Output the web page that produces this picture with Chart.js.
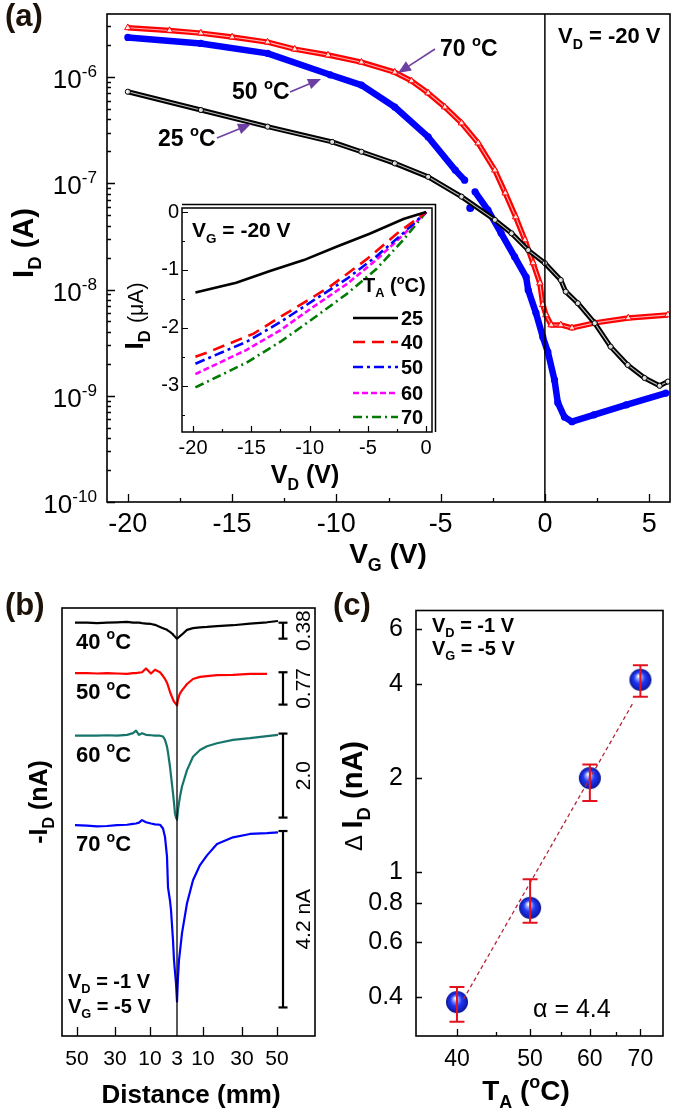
<!DOCTYPE html>
<html><head><meta charset="utf-8">
<script src="https://cdn.jsdelivr.net/npm/chart.js@4.4.1/dist/chart.umd.min.js"></script>
<style>
html,body{margin:0;padding:0;background:#fff;}
#wrap{position:relative;width:675px;height:1116px;overflow:hidden;background:#fff;}
canvas{position:absolute;}
</style></head><body><div id="wrap">
<canvas id="cA" width="675" height="575" style="left:0px;top:0px"></canvas>
<canvas id="cI" width="330" height="300" style="left:115px;top:195px"></canvas>
<canvas id="cB" width="330" height="531" style="left:0px;top:585px"></canvas>
<canvas id="cC" width="345" height="531" style="left:330px;top:585px"></canvas>
</div>
<script>
// ---------------- DATA ----------------
// (a) main: I_D (A) vs V_G (V) at V_D = -20 V
const vg25 = [-20,-16.5,-13.3,-10.2,-8.8,-7.2,-5.6,-4.0,-2.4,-1.6,-0.8,0,0.76,1.0,1.58,2.39,3.15,3.97,4.78,5.5,5.9];
const id25 = [7.27e-7,4.89e-7,3.41e-7,2.45e-7,1.98e-7,1.54e-7,1.15e-7,7.48e-8,4.52e-8,3.38e-8,2.35e-8,1.77e-8,1.23e-8,9.55e-9,7.43e-9,4.82e-9,2.9e-9,1.95e-9,1.47e-9,1.24e-9,1.36e-9];
const vg50 = [-20,-16.5,-13.3,-10.3,-8.8,-7.2,-5.6,-4.3,-3.85,-3.6,-3.35,-2.73,-2.1,-1.45,-0.9,-0.8,-0.43,-0.1,0.14,0.46,0.62,0.94,1.3,2.35,3.9,5.8];
const id50 = [2.36e-6,2.07e-6,1.67e-6,1.05e-6,8.4e-7,5.22e-7,2.73e-7,1.33e-7,1.07e-7,null,8.3e-8,5.6e-8,3.4e-8,2.03e-8,1.31e-8,9.9e-9,6.03e-9,3.58e-9,2.59e-9,1.41e-9,8.6e-10,6.3e-10,5.7e-10,6.6e-10,8.2e-10,1.06e-9];
const vg50Outlier = [-3.58];
const id50Outlier = [5.86e-8];
const vg70 = [-20,-18,-16.5,-15,-13.3,-12,-10.4,-8.8,-7.2,-6.4,-5.6,-4.8,-4.0,-3.2,-2.4,-1.9,-1.4,-0.96,-0.57,-0.24,-0.1,0.05,0.3,0.76,1.3,2.4,4.0,5.9];
const id70 = [2.91e-6,2.74e-6,2.59e-6,2.38e-6,2.13e-6,1.83e-6,1.61e-6,1.38e-6,1.11e-6,9.2e-7,7.07e-7,5.22e-7,3.69e-7,2.39e-7,1.33e-7,8.1e-8,4.82e-8,2.93e-8,1.78e-8,1.15e-8,7.2e-9,5.77e-9,4.64e-9,4.64e-9,4.35e-9,4.85e-9,5.4e-9,5.77e-9];
const xTicksA = [-20,-15,-10,-5,0,5];
const yDecadesA = [-10,-9,-8,-7,-6];

// (a) inset: I_D (uA) vs V_D (V) at V_G = -20 V
const insetTemps = ['25','40','50','60','70'];
const insetVd25 = [-19.8,-16.3,-13.4,-10.5,-7.7,-4.8,-1.95,0];
const insetId25 = [-1.39,-1.22,-1.02,-0.83,-0.60,-0.37,-0.12,0];
const insetVd40 = [-19.8,-18.7,-14.8,-12.5,-10.2,-8.2,-5.0,-2.5,0];
const insetId40 = [-2.50,-2.42,-2.10,-1.81,-1.53,-1.28,-0.80,-0.37,0];
const insetVd = [-19.8,-15.4,-12.5,-9.7,-6.85,-4.3,-2.0,0];
const insetId50 = [-2.62,-2.24,-1.90,-1.53,-1.16,-0.77,-0.37,0];
const insetId60 = [-2.80,-2.38,-2.04,-1.64,-1.25,-0.83,-0.40,0];
const insetId70 = [-3.03,-2.60,-2.24,-1.84,-1.42,-0.99,-0.49,0];
const xTicksI = [-20,-15,-10,-5,0];
const yTicksI = [0,-1,-2,-3];

// (b) -I_D traces vs distance (axis position units), relative change in nA
const tempsB = ['40','50','60','70'];
const posB = [-1.02,-0.9,-0.8,-0.7,-0.6,-0.5,-0.44,-0.41,-0.38,-0.35,-0.31,-0.26,-0.22,-0.17,-0.14,-0.12,-0.1,-0.09,-0.07,-0.06,-0.04,-0.03,-0.02,-0.01,0,0.01,0.02,0.03,0.05,0.1,0.16,0.23,0.3,0.4,0.56,0.73,0.9,1.01];
const dI40 = [0,0,-0.01,0,0.01,0.02,0,0,0,-0.01,-0.02,-0.03,-0.05,-0.1,-0.13,-0.15,-0.17,-0.19,-0.22,-0.24,-0.28,-0.31,-0.33,-0.36,-0.38,-0.36,-0.34,-0.32,-0.28,-0.17,-0.13,-0.11,-0.1,-0.08,-0.06,-0.02,0.01,0.04];
const dI50 = [0,0,-0.01,0,-0.01,-0.02,0,0,0.01,0.02,0.11,-0.01,0.08,0.02,-0.07,-0.14,-0.23,-0.3,-0.45,-0.51,-0.63,-0.68,-0.71,-0.74,-0.77,-0.63,-0.55,-0.48,-0.41,-0.26,-0.14,-0.09,-0.07,-0.05,-0.04,-0.02,-0.02,null];
const dI60 = [0,0,0,0.01,0,0.02,0.06,0.12,0.02,0.06,0.02,0.01,0,0,-0.02,-0.1,-0.26,-0.4,-0.74,-0.95,-1.37,-1.6,-1.85,-1.95,-2.0,-1.77,-1.6,-1.45,-1.21,-0.82,-0.5,-0.34,-0.25,-0.18,-0.1,-0.06,-0.01,0.02];
const dI70 = [0,-0.01,-0.03,-0.02,0,0.01,0.03,0.04,0.06,0.12,0.07,0.04,0.02,0.01,-0.08,-0.28,-0.75,-1.48,-1.8,-2.02,-2.74,-3.21,-3.5,-3.76,-4.2,-3.62,-3.21,-3.0,-2.57,-1.86,-1.31,-0.95,-0.72,-0.45,-0.29,-0.21,-0.19,-0.17];
const baseB = [9.84,8.64,7.15,5.02];
const barTopB = [9.84,8.66,7.2,4.88];
const barDipB = [0.38,0.77,2.0,4.2];
const barLabelB = ['0.38','0.77','2.0','4.2 nA'];
const tickPosB = [-1,-0.62,-0.27,0,0.26,0.65,1];
const tickLabB = ['50','30','10','3','10','30','50'];

// (c) Delta I_D vs T_A
const tempC = [40,50,60,70];
const dIC = [0.385,0.77,2.0,4.12];
const errHiC = [0.43,0.95,2.21,4.59];
const errLoC = [0.333,0.69,1.69,3.64];
const fitT = [40.8,68.6];
const fitI = [0.393,3.51];
const xTicksC = [40,50,60,70];
const xMinorC = [45,55,65];
const yTicksC = [0.4,0.6,0.8,1,2,4,6];

// ---------------- HELPERS ----------------
const FONT = '"Liberation Sans", Arial, Helvetica, sans-serif';
Chart.defaults.font.family = FONT;
Chart.defaults.color = '#000';
const pts = (xs, ys) => xs.map((x,i)=>({x:x, y:ys[i]}));

function parseRich(s){
  const parts=[]; const re=/([_^~])\{([^}]*)\}/g; let last=0,m;
  while((m=re.exec(s))){ if(m.index>last) parts.push({t:s.slice(last,m.index)});
    parts.push({t:m[2], k:m[1]}); last=re.lastIndex; }
  if(last<s.length) parts.push({t:s.slice(last)});
  return parts;
}
function drawRich(ctx, str, x, y, o){
  const size=o.size, weight=o.weight||'bold';
  const parts=parseRich(str);
  const fontOf=p=>{
    if(p.k==='_'||p.k==='^') return `${weight} ${size*(o.sc||0.64)}px ${FONT}`;
    if(p.k==='~') return `normal ${size*0.82}px ${FONT}`;
    return `${weight} ${size}px ${FONT}`;
  };
  ctx.save(); ctx.translate(x,y); if(o.rot) ctx.rotate(o.rot);
  ctx.fillStyle=o.color||'#000'; ctx.textBaseline='alphabetic'; ctx.textAlign='left';
  const w=parts.map(p=>{ctx.font=fontOf(p); return ctx.measureText(p.t).width;});
  const tot=w.reduce((a,b)=>a+b,0);
  let cx = o.align==='center' ? -tot/2 : (o.align==='right' ? -tot : 0);
  parts.forEach((p,i)=>{ ctx.font=fontOf(p);
    const dy = p.k==='_' ? size*0.27 : (p.k==='^' ? -size*0.42 : 0);
    ctx.fillText(p.t, cx, dy); cx+=w[i]; });
  ctx.restore();
}
function arrow(ctx, x1,y1,x2,y2,color){
  const a=Math.atan2(y2-y1,x2-x1), L=13, W=5.5;
  ctx.save(); ctx.strokeStyle=color; ctx.fillStyle=color; ctx.lineWidth=1.6;
  ctx.beginPath(); ctx.moveTo(x1,y1); ctx.lineTo(x2-Math.cos(a)*L*0.8, y2-Math.sin(a)*L*0.8); ctx.stroke();
  ctx.beginPath(); ctx.moveTo(x2,y2);
  ctx.lineTo(x2-Math.cos(a)*L-Math.sin(a)*W, y2-Math.sin(a)*L+Math.cos(a)*W);
  ctx.lineTo(x2-Math.cos(a)*L+Math.sin(a)*W, y2-Math.sin(a)*L-Math.cos(a)*W);
  ctx.closePath(); ctx.fill(); ctx.restore();
}
function ticksX(ctx, sc, area, vals, len){ vals.forEach(v=>{const x=Math.round(sc.getPixelForValue(v))+0.5; ctx.moveTo(x,area.bottom); ctx.lineTo(x,area.bottom-len);}); }
function ticksY(ctx, sc, area, vals, len){ vals.forEach(v=>{const y=Math.round(sc.getPixelForValue(v))+0.5; ctx.moveTo(area.left,y); ctx.lineTo(area.left+len,y);}); }
function frame(ctx, a, lw){ ctx.save(); ctx.lineWidth=lw; ctx.strokeStyle='#000'; ctx.strokeRect(a.left, a.top, a.right-a.left, a.bottom-a.top); ctx.restore(); }
function scaleOpt(extra){
  return Object.assign({grid:{display:false, drawTicks:false}, border:{display:false}}, extra);
}
function common(pad, scales){
  return { responsive:false, animation:false, devicePixelRatio:1, events:[],
    layout:{padding:pad},
    plugins:{legend:{display:false}, tooltip:{enabled:false}},
    scales:scales };
}
const PURPLE = '#6e3fa3';

// ---------------- CHART (a) main ----------------
new Chart(document.getElementById('cA'), {
  type:'scatter',
  data:{datasets:[
    {label:'25', data:pts(vg25,id25), showLine:true, borderColor:'#000', borderWidth:5, pointRadius:0, borderJoinStyle:'round', order:2},
    {label:'25i', data:pts(vg25,id25), showLine:true, borderColor:'rgba(255,255,255,0.75)', borderWidth:1.1, pointRadius:2.6, pointStyle:'circle', pointBackgroundColor:'rgba(255,255,255,0.8)', pointBorderColor:'#000', pointBorderWidth:1, order:1},
    {label:'70', data:pts(vg70,id70), showLine:true, borderColor:'#ff0000', borderWidth:5.5, pointRadius:0, borderJoinStyle:'round', order:4},
    {label:'70i', data:pts(vg70,id70), showLine:true, borderColor:'rgba(255,255,255,0.7)', borderWidth:1.1, pointRadius:3.8, pointStyle:'triangle', pointBackgroundColor:'rgba(255,255,255,0.8)', pointBorderColor:'#ff0000', pointBorderWidth:1, order:3},
    {label:'50', data:pts(vg50,id50), showLine:true, spanGaps:false, borderColor:'#0000ff', borderWidth:6.5, pointRadius:3.6, pointBackgroundColor:'#0000ff', pointBorderWidth:0, borderJoinStyle:'round', order:6},
    {label:'50o', data:pts(vg50Outlier,id50Outlier), showLine:false, pointRadius:4, pointBackgroundColor:'#0000ff', pointBorderWidth:0, order:5}
  ]},
  options: common({top:14,right:3,left:0,bottom:0}, {
    x: scaleOpt({type:'linear', min:-21, max:6,
      afterFit:s=>{s.height=73;}, afterBuildTicks:s=>{s.ticks=xTicksA.map(v=>({value:v}));},
      ticks:{font:{size:27,lineHeight:1}, color:'#000', padding:9, maxRotation:0, autoSkip:false}}),
    y: scaleOpt({type:'logarithmic', min:1e-10, max:3.92e-6,
      afterFit:s=>{s.width=107;}, ticks:{display:false}})
  }),
  plugins:[{id:'decoA', afterDraw(chart){
    const ctx=chart.ctx, a=chart.chartArea, xs=chart.scales.x, ys=chart.scales.y;
    frame(ctx,a,1.6);
    ctx.save(); ctx.strokeStyle='#000'; ctx.lineWidth=1.5;
    const x0=xs.getPixelForValue(0); ctx.beginPath(); ctx.moveTo(x0,a.top); ctx.lineTo(x0,a.bottom); ctx.stroke();
    ctx.lineWidth=1.3; ctx.beginPath();
    ticksX(ctx,xs,a,xTicksA,8);
    const minorX=xTicksA.map(v=>v-2.5).concat([xTicksA[xTicksA.length-1]+2.5]);
    ticksX(ctx,xs,a,minorX.filter(v=>v>-21&&v<6),4);
    ticksY(ctx,ys,a,yDecadesA.map(d=>Math.pow(10,d)),8);
    const minorY=[]; yDecadesA.forEach(d=>{for(let k=2;k<=9;k++){const v=k*Math.pow(10,d); if(v<3.92e-6) minorY.push(v);}});
    ticksY(ctx,ys,a,minorY,4);
    ctx.stroke(); ctx.restore();
    yDecadesA.forEach(d=>{ const y=ys.getPixelForValue(Math.pow(10,d));
      drawRich(ctx,'10^{'+d+'}',97,y+11,{size:26,weight:'normal',align:'right',sc:0.66}); });
    drawRich(ctx,'I_{D} (A)',33,243,{size:29,rot:-Math.PI/2,align:'center'});
    drawRich(ctx,'V_{G} (V)',388,563,{size:28,align:'center'});
    drawRich(ctx,'(a)',5,26,{size:31,color:'#1c1208'});
    drawRich(ctx,'V_{D} = -20 V',558,43,{size:22});
    drawRich(ctx,'70 ^{o}C',440,56,{size:23});
    drawRich(ctx,'50 ^{o}C',232,99,{size:23});
    drawRich(ctx,'25 ^{o}C',158,146,{size:23});
    arrow(ctx,435,49,398,73,PURPLE);
    arrow(ctx,290,92,321,79,PURPLE);
    arrow(ctx,217,138,251,124,PURPLE);
  }}]
});

// ---------------- CHART (a) inset ----------------
const insetStyles = [
  {c:'#000000', d:[]},
  {c:'#ff0000', d:[12,7]},
  {c:'#0000ff', d:[10,4,3,4]},
  {c:'#ff00ff', d:[6,3]},
  {c:'#007a00', d:[9,4,2,4]}
];
const insetSeries = [pts(insetVd25,insetId25), pts(insetVd40,insetId40), pts(insetVd,insetId50), pts(insetVd,insetId60), pts(insetVd,insetId70)];
const OI={x:115,y:195};
new Chart(document.getElementById('cI'), {
  type:'scatter',
  data:{datasets: insetSeries.map((d,i)=>({label:insetTemps[i], data:d, showLine:true, borderColor:insetStyles[i].c, borderDash:insetStyles[i].d, borderWidth:2.6, pointRadius:0, order:i}))},
  options: common({top:9,right:13,left:0,bottom:0}, {
    x: scaleOpt({type:'linear', min:-20.95, max:0.5,
      afterFit:s=>{s.height=63;}, afterBuildTicks:s=>{s.ticks=xTicksI.map(v=>({value:v}));},
      ticks:{font:{size:20,lineHeight:1}, color:'#000', padding:6, maxRotation:0, autoSkip:false}}),
    y: scaleOpt({type:'linear', min:-3.8, max:0.07,
      afterFit:s=>{s.width=67;}, afterBuildTicks:s=>{s.ticks=yTicksI.map(v=>({value:v}));},
      ticks:{font:{size:20,lineHeight:1}, color:'#000', padding:3, autoSkip:false}})
  }),
  plugins:[{id:'bgI', beforeDatasetsDraw(chart){
      const ctx=chart.ctx,a=chart.chartArea; ctx.save(); ctx.fillStyle='#fff'; ctx.fillRect(a.left,a.top,a.right-a.left,a.bottom-a.top); ctx.restore(); },
    afterDraw(chart){
    const ctx=chart.ctx, a=chart.chartArea, xs=chart.scales.x, ys=chart.scales.y;
    frame(ctx,a,1.5);
    ctx.save(); ctx.lineWidth=1.5; ctx.beginPath();
    ctx.moveTo(a.left,a.top-3.5); ctx.lineTo(a.right+3.5,a.top-3.5); ctx.lineTo(a.right+3.5,a.bottom); ctx.stroke();
    ctx.lineWidth=1.2; ctx.beginPath();
    ticksX(ctx,xs,a,xTicksI,6); ticksX(ctx,xs,a,xTicksI.slice(0,-1).map(v=>v+2.5),3);
    ticksY(ctx,ys,a,yTicksI,6); ticksY(ctx,ys,a,yTicksI.map(v=>v-0.5),3);
    ctx.stroke(); ctx.restore();
    ctx.save(); ctx.translate(-OI.x,-OI.y);
    drawRich(ctx,'I_{D} ~{(μA)}',143,316,{size:26,rot:-Math.PI/2,align:'center'});
    drawRich(ctx,'V_{D} (V)',305,483,{size:25,align:'center'});
    drawRich(ctx,'V_{G} = -20 V',192,237,{size:21});
    drawRich(ctx,'T_{A} (^{o}C)',363,292,{size:20});
    const rows=[318,342,367,393,417];
    chart.data.datasets.forEach((ds,i)=>{
      ctx.save(); ctx.strokeStyle=ds.borderColor; ctx.lineWidth=2.6; ctx.setLineDash(ds.borderDash);
      ctx.beginPath(); ctx.moveTo(353,rows[i]); ctx.lineTo(398,rows[i]); ctx.stroke(); ctx.restore();
      drawRich(ctx,ds.label,401,rows[i]+7,{size:20});
    });
    ctx.restore();
  }}]
});

// ---------------- CHART (b) ----------------
const colorsB = ['#000000','#ff0000','#16756a','#0000ff'];
const seriesB = [dI40,dI50,dI60,dI70];
const OB={x:0,y:585};
const dsB = seriesB.map((v,i)=>({label:tempsB[i], data:posB.map((p,j)=>({x:p, y: v[j]==null?null:baseB[i]+v[j]})), showLine:true, spanGaps:false, borderColor:colorsB[i], borderWidth:2.2, pointRadius:0, borderJoinStyle:'round'}));
barTopB.forEach((t,i)=>{ dsB.push({label:'bar'+i, data:[{x:1.06,y:t},{x:1.06,y:t-barDipB[i]}], showLine:true, borderColor:'#000', borderWidth:2.2, pointStyle:'line', pointRadius:4.5, pointBorderColor:'#000', pointBorderWidth:2.2}); });
new Chart(document.getElementById('cB'), {
  type:'scatter',
  data:{datasets:dsB},
  options: common({top:23,right:15,left:0,bottom:0}, {
    x: scaleOpt({type:'linear', min:-1.15, max:1.38,
      afterFit:s=>{s.height=80;}, afterBuildTicks:s=>{s.ticks=tickPosB.map(v=>({value:v}));},
      ticks:{font:{size:21,lineHeight:1}, color:'#000', padding:13, maxRotation:0, autoSkip:false, callback:(v,i)=>tickLabB[i]}}),
    y: scaleOpt({type:'linear', min:0, max:10.19, afterFit:s=>{s.width=62;}, ticks:{display:false}})
  }),
  plugins:[{id:'decoB', afterDraw(chart){
    const ctx=chart.ctx, a=chart.chartArea, xs=chart.scales.x, ys=chart.scales.y;
    frame(ctx,a,1.6);
    ctx.save(); ctx.lineWidth=1.3; ctx.beginPath();
    const x0=xs.getPixelForValue(0); ctx.moveTo(x0,a.top); ctx.lineTo(x0,a.bottom);
    ticksX(ctx,xs,a,tickPosB.filter(v=>v!==0),9);
    ctx.stroke(); ctx.restore();
    ctx.save(); ctx.translate(-OB.x,-OB.y);
    const xb = xs.getPixelForValue(1.06)+OB.x;
    barTopB.forEach((t,i)=>{
      const yc=(ys.getPixelForValue(t)+ys.getPixelForValue(t-barDipB[i]))/2+OB.y;
      drawRich(ctx,barLabelB[i],xb+27,yc,{size:21,weight:'normal',rot:-Math.PI/2,align:'center'});
      drawRich(ctx,tempsB[i]+' ^{o}C',76,ys.getPixelForValue(baseB[i])+OB.y+26,{size:22});
    });
    drawRich(ctx,'-I_{D} (nA)',47,802,{size:25,rot:-Math.PI/2,align:'center'});
    drawRich(ctx,'Distance (mm)',191,1103,{size:26,align:'center'});
    drawRich(ctx,'(b)',5,615,{size:31,color:'#1c1208'});
    drawRich(ctx,'V_{D} = -1 V',68,988,{size:20});
    drawRich(ctx,'V_{G} = -5 V',68,1013,{size:20});
    ctx.restore();
  }}]
});

// ---------------- CHART (c) ----------------
function sphere(r){
  const c=document.createElement('canvas'); c.width=c.height=2*r+2; const g=c.getContext('2d');
  const cx=r+1, cy=r+1;
  const grad=g.createRadialGradient(cx-r*0.15, cy-r*0.35, r*0.05, cx, cy, r);
  grad.addColorStop(0,'#ffffff'); grad.addColorStop(0.22,'#8a9bff'); grad.addColorStop(0.5,'#2238f0'); grad.addColorStop(0.85,'#1020c0'); grad.addColorStop(1,'#0a1480');
  g.fillStyle=grad; g.beginPath(); g.arc(cx,cy,r,0,Math.PI*2); g.fill(); return c;
}
const sphereImg = sphere(11);
const OC={x:330,y:585};
new Chart(document.getElementById('cC'), {
  type:'scatter',
  data:{datasets:[
    {label:'fit', data:pts(fitT,fitI), showLine:true, borderColor:'#b3263a', borderWidth:1.3, borderDash:[4,3], pointRadius:0, order:0},
    {label:'dI', data:pts(tempC,dIC), showLine:false, pointStyle:sphereImg, pointRadius:11, order:1}
  ]},
  options: common({top:23,right:7,left:0,bottom:0}, {
    x: scaleOpt({type:'logarithmic', min:35.3, max:75,
      afterFit:s=>{s.height=80;}, afterBuildTicks:s=>{s.ticks=xTicksC.map(v=>({value:v}));},
      ticks:{font:{size:23,lineHeight:1}, color:'#000', padding:12, maxRotation:0, autoSkip:false, callback:v=>String(v)}}),
    y: scaleOpt({type:'logarithmic', min:0.307, max:6.86,
      afterFit:s=>{s.width=86;}, afterBuildTicks:s=>{s.ticks=yTicksC.map(v=>({value:v}));},
      ticks:{font:{size:25,lineHeight:1}, color:'#000', padding:13, autoSkip:false, callback:v=>String(v)}})
  }),
  plugins:[{id:'decoC', afterDatasetsDraw(chart){
      const ctx=chart.ctx, xs=chart.scales.x, ys=chart.scales.y;
      ctx.save(); ctx.strokeStyle='#e3121c'; ctx.lineWidth=2; ctx.beginPath();
      tempC.forEach((t,i)=>{ const x=xs.getPixelForValue(t), y1=ys.getPixelForValue(errHiC[i]), y2=ys.getPixelForValue(errLoC[i]);
        ctx.moveTo(x,y1); ctx.lineTo(x,y2); ctx.moveTo(x-7.5,y1); ctx.lineTo(x+7.5,y1); ctx.moveTo(x-7.5,y2); ctx.lineTo(x+7.5,y2); });
      ctx.stroke(); ctx.restore();
    },
    afterDraw(chart){
    const ctx=chart.ctx, a=chart.chartArea, xs=chart.scales.x, ys=chart.scales.y;
    frame(ctx,a,1.6);
    ctx.save(); ctx.lineWidth=1.3; ctx.beginPath();
    ticksX(ctx,xs,a,xTicksC,7); ticksX(ctx,xs,a,xMinorC,4);
    ticksY(ctx,ys,a,yTicksC,6);
    ctx.stroke(); ctx.restore();
    ctx.save(); ctx.translate(-OC.x,-OC.y);
    drawRich(ctx,'~{Δ }I_{D} (nA)',362,796,{size:29,rot:-Math.PI/2,align:'center'});
    drawRich(ctx,'T_{A} (^{o}C)',526,1100,{size:28,align:'center'});
    drawRich(ctx,'(c)',333,615,{size:31,color:'#1c1208'});
    drawRich(ctx,'V_{D} = -1 V',432,632,{size:20});
    drawRich(ctx,'V_{G} = -5 V',432,655,{size:20});
    drawRich(ctx,'α = 4.4',533,1017,{size:25,weight:'normal'});
    ctx.restore();
  }}]
});
</script></body></html>
